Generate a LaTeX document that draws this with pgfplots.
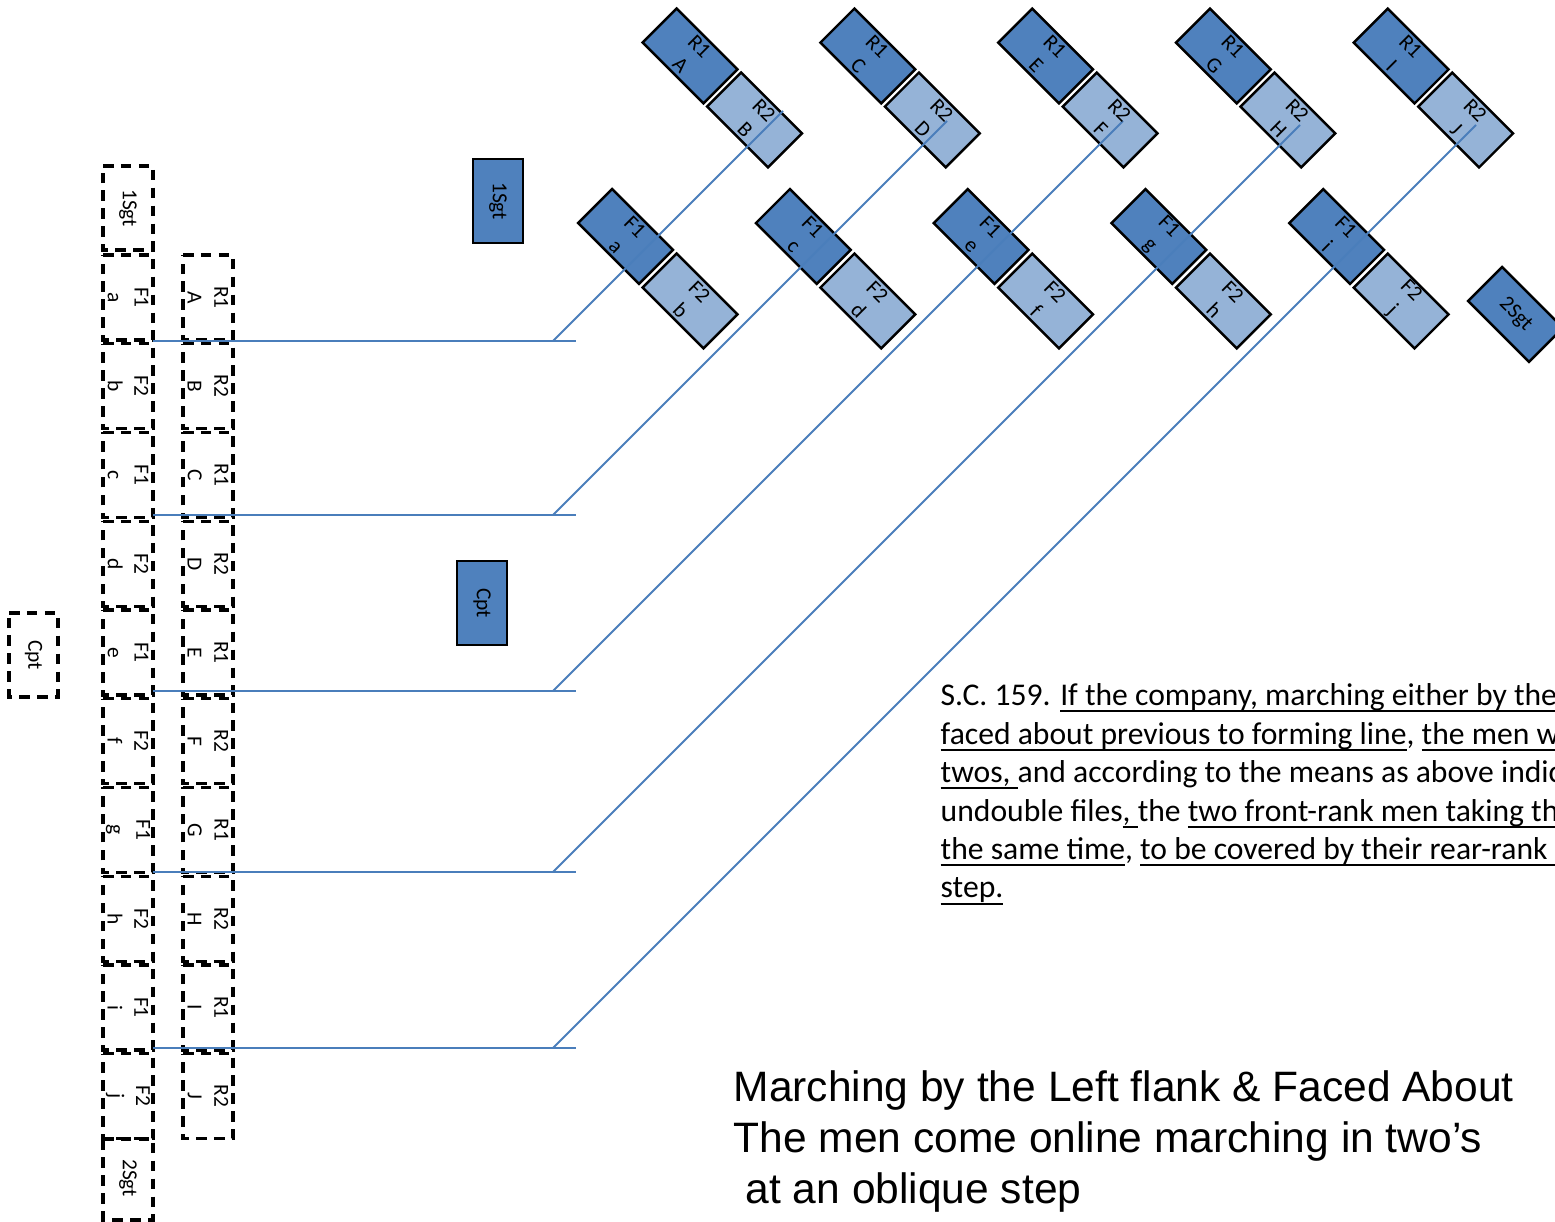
\documentclass[border=0pt]{standalone}
\usepackage{pgfplots}
\pgfplotsset{compat=1.18}
\usepackage{fontspec}
\setmainfont{Carlito}
\newfontfamily\arialf{Liberation Sans}
\definecolor{dkb}{HTML}{4F81BD}
\definecolor{ltb}{HTML}{95B3D7}
\definecolor{lnb}{HTML}{4A7EBB}
\newcommand{\uline}[1]{\setbox0\hbox{#1}\rlap{\rule[-1.9pt]{\wd0}{0.6pt}}\box0}
\newcommand{\dbox}[4]{\addplot[black, line width=0.95pt, dash pattern=on 3pt off 2.1pt] coordinates {(#1,#2) (#3,#2) (#3,#4) (#1,#4)} -- cycle;}
\newcommand{\rb}[9]{\addplot[draw=black, line width=0.7pt, fill=#1] coordinates {(#2,#3) (#4,#5) (#6,#7) (#8,#9)} -- cycle;}
\tikzset{lab/.style={font=\fontsize{6.1}{7.6}\selectfont, align=center, inner sep=0pt}}
\begin{document}
\begin{tikzpicture}
\begin{axis}[
  width=15.55cm, height=12.22cm, scale only axis,
  xmin=0, xmax=1555, ymin=0, ymax=1222, y dir=reverse,
  hide axis, clip=true
]
% ---- left dashed column (files) ----
\dbox{103}{166}{153}{250}
\dbox{103}{255}{153}{340}
\dbox{103}{343.75}{153}{428.75}
\dbox{103}{432.5}{153}{517.5}
\dbox{103}{521.25}{153}{606.25}
\dbox{103}{610}{153}{695}
\dbox{103}{698.75}{153}{783.75}
\dbox{103}{787.5}{153}{872.5}
\dbox{103}{876.25}{153}{961.25}
\dbox{103}{965}{153}{1050}
\dbox{103}{1053.75}{153}{1138.75}
\dbox{103}{1139}{153}{1220}
% ---- right dashed column ----
\dbox{183}{255}{233}{340}
\dbox{183}{343.75}{233}{428.75}
\dbox{183}{432.5}{233}{517.5}
\dbox{183}{521.25}{233}{606.25}
\dbox{183}{610}{233}{695}
\dbox{183}{698.75}{233}{783.75}
\dbox{183}{787.5}{233}{872.5}
\dbox{183}{876.25}{233}{961.25}
\dbox{183}{965}{233}{1050}
\dbox{183}{1053.75}{233}{1138.75}
% ---- Cpt dashed ----
\dbox{9}{613}{58}{697}
% ---- horizontal lines ----
\addplot[lnb, line width=0.55pt] coordinates {(153,341) (576,341)};
\addplot[lnb, line width=0.55pt] coordinates {(153,515) (576,515)};
\addplot[lnb, line width=0.55pt] coordinates {(153,691) (576,691)};
\addplot[lnb, line width=0.55pt] coordinates {(153,872) (576,872)};
\addplot[lnb, line width=0.55pt] coordinates {(153,1048) (576,1048)};
% ---- upright blue boxes ----
\addplot[draw=black, line width=0.8pt, fill=dkb] coordinates {(473,159) (523,159) (523,243) (473,243)} -- cycle;
\addplot[draw=black, line width=0.8pt, fill=dkb] coordinates {(457,561) (507,561) (507,645) (457,645)} -- cycle;
% ---- R1 row ----
\rb{dkb}{676.6}{8.6}{737.4}{69.4}{703.4}{103.4}{642.6}{42.6}
\rb{dkb}{854.4}{8.6}{915.2}{69.4}{881.2}{103.4}{820.4}{42.6}
\rb{dkb}{1032.2}{8.6}{1093}{69.4}{1059}{103.4}{998.2}{42.6}
\rb{dkb}{1210}{8.6}{1270.8}{69.4}{1236.8}{103.4}{1176}{42.6}
\rb{dkb}{1387.8}{8.6}{1448.6}{69.4}{1414.6}{103.4}{1353.8}{42.6}
% ---- R2 row ----
\rb{ltb}{741.1}{72.6}{801.9}{133.4}{767.9}{167.4}{707.1}{106.6}
\rb{ltb}{918.9}{72.6}{979.7}{133.4}{945.7}{167.4}{884.9}{106.6}
\rb{ltb}{1096.7}{72.6}{1157.5}{133.4}{1123.5}{167.4}{1062.7}{106.6}
\rb{ltb}{1274.5}{72.6}{1335.3}{133.4}{1301.3}{167.4}{1240.5}{106.6}
\rb{ltb}{1452.3}{72.6}{1513.1}{133.4}{1479.1}{167.4}{1418.3}{106.6}
% ---- F1 row ----
\rb{dkb}{612.1}{189.1}{672.9}{249.9}{638.9}{283.9}{578.1}{223.1}
\rb{dkb}{789.9}{189.1}{850.7}{249.9}{816.7}{283.9}{755.9}{223.1}
\rb{dkb}{967.7}{189.1}{1028.5}{249.9}{994.5}{283.9}{933.7}{223.1}
\rb{dkb}{1145.5}{189.1}{1206.3}{249.9}{1172.3}{283.9}{1111.5}{223.1}
\rb{dkb}{1323.3}{189.1}{1384.1}{249.9}{1350.1}{283.9}{1289.3}{223.1}
% ---- F2 row ----
\rb{ltb}{676.6}{253.6}{737.4}{314.4}{703.4}{348.4}{642.6}{287.6}
\rb{ltb}{854.4}{253.6}{915.2}{314.4}{881.2}{348.4}{820.4}{287.6}
\rb{ltb}{1032.2}{253.6}{1093}{314.4}{1059}{348.4}{998.2}{287.6}
\rb{ltb}{1210}{253.6}{1270.8}{314.4}{1236.8}{348.4}{1176}{287.6}
\rb{ltb}{1387.8}{253.6}{1448.6}{314.4}{1414.6}{348.4}{1353.8}{287.6}
% ---- 2Sgt ----
\rb{dkb}{1502.1}{267.1}{1562.9}{327.9}{1528.9}{361.9}{1468.1}{301.1}
% ---- diagonal lines ----
\addplot[lnb, line width=0.55pt] coordinates {(553,341) (783,111)};
\addplot[lnb, line width=0.55pt] coordinates {(553,515) (947,121)};
\addplot[lnb, line width=0.55pt] coordinates {(553,691) (1123,121)};
\addplot[lnb, line width=0.55pt] coordinates {(553,872) (1300,125)};
\addplot[lnb, line width=0.55pt] coordinates {(553,1048) (1476,125)};
% ---- labels: left column ----
\node[lab, rotate=-90] at (axis cs:128,208) {1Sgt};
\node[lab, rotate=-90] at (axis cs:128,297.5) {F1\\a};
\node[lab, rotate=-90] at (axis cs:128,386.25) {F2\\b};
\node[lab, rotate=-90] at (axis cs:128,475) {F1\\c};
\node[lab, rotate=-90] at (axis cs:128,563.75) {F2\\d};
\node[lab, rotate=-90] at (axis cs:128,652.5) {F1\\e};
\node[lab, rotate=-90] at (axis cs:128,741.25) {F2\\f};
\node[lab, rotate=-90] at (axis cs:128,830) {F1\\g};
\node[lab, rotate=-90] at (axis cs:128,918.75) {F2\\h};
\node[lab, rotate=-90] at (axis cs:128,1007.5) {F1\\i};
\node[lab, rotate=-90] at (axis cs:128,1096.25) {F2\\j};
\node[lab, rotate=-90] at (axis cs:128,1178) {2Sgt};
% ---- labels: right column ----
\node[lab, rotate=-90] at (axis cs:208,297.5) {R1\\A};
\node[lab, rotate=-90] at (axis cs:208,386.25) {R2\\B};
\node[lab, rotate=-90] at (axis cs:208,475) {R1\\C};
\node[lab, rotate=-90] at (axis cs:208,563.75) {R2\\D};
\node[lab, rotate=-90] at (axis cs:208,652.5) {R1\\E};
\node[lab, rotate=-90] at (axis cs:208,741.25) {R2\\F};
\node[lab, rotate=-90] at (axis cs:208,830) {R1\\G};
\node[lab, rotate=-90] at (axis cs:208,918.75) {R2\\H};
\node[lab, rotate=-90] at (axis cs:208,1007.5) {R1\\I};
\node[lab, rotate=-90] at (axis cs:208,1096.25) {R2\\J};
\node[lab, rotate=-90] at (axis cs:33.5,655) {Cpt};
\node[lab, rotate=-90] at (axis cs:498,201) {1Sgt};
\node[lab, rotate=-90] at (axis cs:482,603) {Cpt};
% ---- labels: rotated boxes ----
\node[lab, rotate=-45] at (axis cs:690,56) {R1\\A};
\node[lab, rotate=-45] at (axis cs:867.8,56) {R1\\C};
\node[lab, rotate=-45] at (axis cs:1045.6,56) {R1\\E};
\node[lab, rotate=-45] at (axis cs:1223.4,56) {R1\\G};
\node[lab, rotate=-45] at (axis cs:1401.2,56) {R1\\I};
\node[lab, rotate=-45] at (axis cs:754.5,120) {R2\\B};
\node[lab, rotate=-45] at (axis cs:932.3,120) {R2\\D};
\node[lab, rotate=-45] at (axis cs:1110.1,120) {R2\\F};
\node[lab, rotate=-45] at (axis cs:1287.9,120) {R2\\H};
\node[lab, rotate=-45] at (axis cs:1465.7,120) {R2\\J};
\node[lab, rotate=-45] at (axis cs:625.5,236.5) {F1\\a};
\node[lab, rotate=-45] at (axis cs:803.3,236.5) {F1\\c};
\node[lab, rotate=-45] at (axis cs:981.1,236.5) {F1\\e};
\node[lab, rotate=-45] at (axis cs:1158.9,236.5) {F1\\g};
\node[lab, rotate=-45] at (axis cs:1336.7,236.5) {F1\\i};
\node[lab, rotate=-45] at (axis cs:690,301) {F2\\b};
\node[lab, rotate=-45] at (axis cs:867.8,301) {F2\\d};
\node[lab, rotate=-45] at (axis cs:1045.6,301) {F2\\f};
\node[lab, rotate=-45] at (axis cs:1223.4,301) {F2\\h};
\node[lab, rotate=-45] at (axis cs:1401.2,301) {F2\\j};
\node[lab, rotate=-45] at (axis cs:1515.5,314.5) {2Sgt};
% ---- text block (anchor = baseline of last line) ----
\node[anchor=base west, inner sep=0pt, align=left, font=\fontsize{9.0}{10.95}\selectfont] at (axis cs:940,898) {%
S.C. 159. \uline{If the company, marching either by the right or left flank, be}\\
\uline{faced about previous to forming line}, \uline{the men will come into line by}\\
\uline{twos,\ }and according to the means as above indicated, to\\
undouble files\uline{,\ }the \uline{two front-rank men taking the oblique step}\\
\uline{the same time}, \uline{to be covered by their rear-rank men at the}\\
\uline{step.}};
% ---- title (anchor = baseline of last line) ----
\node[anchor=base west, inner sep=0pt, align=left, font=\arialf\fontsize{12.1}{14.65}\selectfont] at (axis cs:733,1204) {%
Marching by the Left flank \& Faced About\\
The men come online marching in two’s\\
\hspace*{3.4pt}at an oblique step};
\end{axis}
\pgfresetboundingbox
\path[use as bounding box] (current axis.south west) rectangle (current axis.north east);
\end{tikzpicture}
\end{document}
